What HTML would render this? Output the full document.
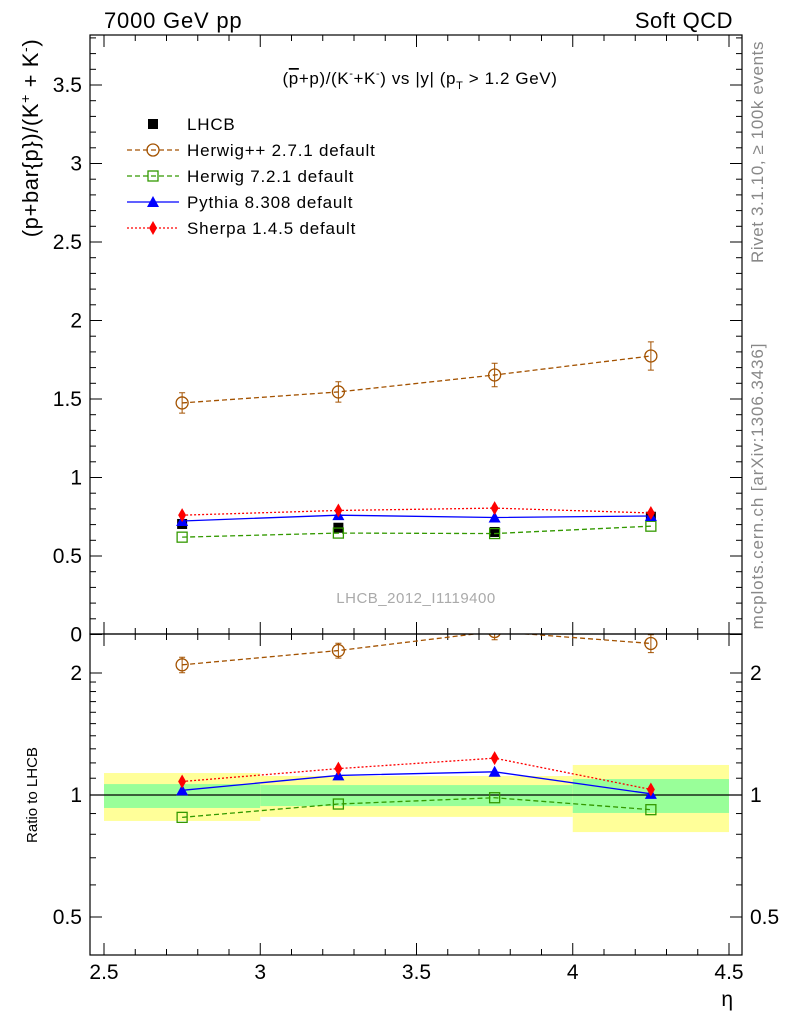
<!DOCTYPE html>
<html><head><meta charset="utf-8"><style>
body{margin:0;background:#fff}
svg{font-family:"Liberation Sans",Arial,sans-serif}
</style></head><body>
<svg id="c" width="786" height="1024" xmlns="http://www.w3.org/2000/svg">
<defs>
<clipPath id="cm"><rect x="90" y="35" width="652" height="599"/></clipPath>
<clipPath id="cr"><rect x="90" y="634" width="652" height="321"/></clipPath>
</defs>
<g id="bands" clip-path="url(#cr)"></g>
<g id="grid"></g>
<g id="series"></g>
<rect x="90" y="35" width="652" height="599" fill="none" stroke="#000" stroke-width="1.2"/>
<rect x="90" y="634" width="652" height="321" fill="none" stroke="#000" stroke-width="1.2"/>
<text x="104" y="28" font-size="22" letter-spacing="0.8">7000 GeV pp</text>
<text x="733" y="28" font-size="22" letter-spacing="0.5" text-anchor="end">Soft QCD</text>
<text x="420" y="84" font-size="17" letter-spacing="0.6" text-anchor="middle">(<tspan text-decoration="overline">p</tspan>+p)/(K<tspan dy="-7" font-size="11">-</tspan><tspan dy="7">+K</tspan><tspan dy="-7" font-size="11">-</tspan><tspan dy="7">) vs |y| (p</tspan><tspan dy="5" font-size="11">T</tspan><tspan dy="-5"> &gt; 1.2 GeV)</tspan></text>
<text transform="translate(38,138) rotate(-90)" font-size="22" letter-spacing="0.6" text-anchor="middle">(p+bar{p})/(K<tspan dy="-8" font-size="14">+</tspan><tspan dy="8"> + K</tspan><tspan dy="-8" font-size="14">-</tspan><tspan dy="8">)</tspan></text>
<text transform="translate(37,795) rotate(-90)" font-size="15" text-anchor="middle">Ratio to LHCB</text>
<text transform="translate(763,152) rotate(-90)" font-size="17" letter-spacing="0.6" fill="#888" text-anchor="middle">Rivet 3.1.10, ≥ 100k events</text>
<text transform="translate(763,486) rotate(-90)" font-size="17" letter-spacing="0.9" fill="#888" text-anchor="middle">mcplots.cern.ch [arXiv:1306.3436]</text>
<text x="416" y="603" font-size="15" letter-spacing="0.5" fill="#aaa" text-anchor="middle">LHCB_2012_I1119400</text>
<text x="733" y="1006" font-size="21" text-anchor="end">η</text>
<g id="legend"></g>
</svg>
<script>
const etaBins = [2.75, 3.25, 3.75, 4.25];
const dataVals = [0.704, 0.68, 0.653, 0.75];
const herwigppVals = [1.475, 1.545, 1.653, 1.774];
const herwigppErr = [0.065, 0.065, 0.075, 0.09];
const herwig7Vals = [0.62, 0.646, 0.643, 0.69];
const pythiaVals = [0.723, 0.76, 0.745, 0.755];
const sherpaVals = [0.76, 0.79, 0.805, 0.774];
const binEdges = [2.5, 3, 3.5, 4, 4.5];
const bandTotalHi = [1.133, 1.114, 1.114, 1.186];
const bandTotalLo = [0.863, 0.883, 0.883, 0.81];
const bandStatHi = [1.064, 1.058, 1.058, 1.095];
const bandStatLo = [0.929, 0.939, 0.939, 0.903];
const xTicks = [2.5, 3, 3.5, 4, 4.5];
const yTicks = [0, 0.5, 1, 1.5, 2, 2.5, 3, 3.5];
const rTicks = [0.5, 1, 2];

const NS = "http://www.w3.org/2000/svg";
const X = v => 104 + (v - 2.5) * 312.5;
const Y = v => 634.5 - v * 157;
const R = v => 795 - Math.log2(v) * 122;
function mk(tag, at, parent) {
  const e = document.createElementNS(NS, tag);
  for (const k in at) e.setAttribute(k, at[k]);
  parent.appendChild(e);
  return e;
}
const grid = document.getElementById('grid');
const bands = document.getElementById('bands');
const series = document.getElementById('series');
const legend = document.getElementById('legend');

for (let i = 0; i < 4; i++) {
  let r = mk('rect', {x: X(binEdges[i]), y: R(bandTotalHi[i]), width: X(binEdges[i+1]) - X(binEdges[i]), height: R(bandTotalLo[i]) - R(bandTotalHi[i]), fill: '#ffff99'}, bands);
  
  
  let g = mk('rect', {x: X(binEdges[i]), y: R(bandStatHi[i]), width: X(binEdges[i+1]) - X(binEdges[i]), height: R(bandStatLo[i]) - R(bandStatHi[i]), fill: '#99ff99'}, bands);
  
  
}
let one = mk('line', {x1: 90, x2: 742, y1: R(1), y2: R(1), stroke: '#000', 'stroke-width': 1.2}, bands);



for (let v = 2.5; v <= 4.501; v += 0.1) {
  const major = Math.abs(v * 2 - Math.round(v * 2)) < 1e-6;
  const L = major ? 12 : 6;
  const x = X(v);
  mk('line', {x1: x, x2: x, y1: 955, y2: 955 - L, stroke: '#000'}, grid);
  mk('line', {x1: x, x2: x, y1: 634, y2: 634 - L, stroke: '#000'}, grid);
  mk('line', {x1: x, x2: x, y1: 634, y2: 634 + L, stroke: '#000'}, grid);
  mk('line', {x1: x, x2: x, y1: 35, y2: 35 + L, stroke: '#000'}, grid);
}
xTicks.forEach(v => {
  const t = mk('text', {x: X(v), y: 979, 'font-size': 21, 'text-anchor': 'middle'}, grid);
  t.textContent = v;
  
  
});
for (let v = 0; v <= 3.801; v += 0.1) {
  const major = Math.abs(v * 2 - Math.round(v * 2)) < 1e-6;
  const L = major ? 12 : 6;
  const y = Y(v);
  if (y < 35) continue;
  mk('line', {x1: 90, x2: 90 + L, y1: y, y2: y, stroke: '#000'}, grid);
  mk('line', {x1: 742, x2: 742 - L, y1: y, y2: y, stroke: '#000'}, grid);
}
yTicks.forEach(v => {
  const t = mk('text', {x: 82, y: Y(v) + 7, 'font-size': 21, 'text-anchor': 'end'}, grid);
  t.textContent = v;
  
  
});
[0.5,0.6,0.7,0.8,0.9,1,1.1,1.2,1.3,1.4,1.5,1.6,1.7,1.8,1.9,2].forEach(v => {
  const major = rTicks.includes(v);
  const L = major ? 12 : 6;
  const y = R(v);
  mk('line', {x1: 90, x2: 90 + L, y1: y, y2: y, stroke: '#000'}, grid);
  mk('line', {x1: 742, x2: 742 - L, y1: y, y2: y, stroke: '#000'}, grid);
});
rTicks.forEach(v => {
  let t = mk('text', {x: 82, y: R(v) + 7, 'font-size': 21, 'text-anchor': 'end'}, grid);
  t.textContent = v;
  
  
  t = mk('text', {x: 750, y: R(v) + 7, 'font-size': 21}, grid);
  t.textContent = v;
  
  
});

function marker(kind, x, y, col, parent) {
  if (kind === 'sq') return mk('rect', {x: x - 5, y: y - 5, width: 10, height: 10, fill: '#000'}, parent);
  if (kind === 'osq') return mk('rect', {x: x - 5, y: y - 5, width: 10, height: 10, fill: 'none', stroke: col, 'stroke-width': 1.3}, parent);
  if (kind === 'oc') return mk('circle', {cx: x, cy: y, r: 6, fill: 'none', stroke: col, 'stroke-width': 1.3}, parent);
  if (kind === 'tri') return mk('path', {d: `M${x},${y-6}L${x+6},${y+5}L${x-6},${y+5}Z`, fill: col}, parent);
  if (kind === 'dia') return mk('path', {d: `M${x},${y-7}L${x+4},${y}L${x},${y+7}L${x-4},${y}Z`, fill: col}, parent);
}
const models = [
  {name: 'herwigpp', vals: herwigppVals, err: herwigppErr, col: '#a35200', dash: '5,3', m: 'oc', label: 'Herwig++ 2.7.1 default'},
  {name: 'herwig7', vals: herwig7Vals, err: null, col: '#339900', dash: '5,3', m: 'osq', label: 'Herwig 7.2.1 default'},
  {name: 'pythia', vals: pythiaVals, err: null, col: '#0000ff', dash: null, m: 'tri', label: 'Pythia 8.308 default'},
  {name: 'sherpa', vals: sherpaVals, err: null, col: '#ff0000', dash: '2,2', m: 'dia', label: 'Sherpa 1.4.5 default'}
];
const gm = mk('g', {'clip-path': 'url(#cm)'}, series);
const gr = mk('g', {'clip-path': 'url(#cr)'}, series);
etaBins.forEach((e, i) => {
  const p = marker('sq', X(e), Y(dataVals[i]), '#000', gm);
  
  
});
models.forEach(md => {
  const att = {fill: 'none', stroke: md.col, 'stroke-width': 1.3};
  if (md.dash) att['stroke-dasharray'] = md.dash;
  const l = mk('polyline', Object.assign({points: etaBins.map((e, i) => X(e) + ',' + Y(md.vals[i])).join(' ')}, att), gm);
  
  
  const rl = mk('polyline', Object.assign({points: etaBins.map((e, i) => X(e) + ',' + R(md.vals[i] / dataVals[i])).join(' ')}, att), gr);
  
  
  etaBins.forEach((e, i) => {
    if (md.err) {
      const y1 = Y(md.vals[i] + md.err[i]), y2 = Y(md.vals[i] - md.err[i]);
      mk('path', {d: `M${X(e)},${y1}V${y2}M${X(e)-3},${y1}H${X(e)+3}M${X(e)-3},${y2}H${X(e)+3}`, stroke: md.col, fill: 'none'}, gm);
      const r1 = R((md.vals[i] + md.err[i]) / dataVals[i]), r2 = R((md.vals[i] - md.err[i]) / dataVals[i]);
      mk('path', {d: `M${X(e)},${r1}V${r2}M${X(e)-3},${r1}H${X(e)+3}M${X(e)-3},${r2}H${X(e)+3}`, stroke: md.col, fill: 'none'}, gr);
    }
    const p = marker(md.m, X(e), Y(md.vals[i]), md.col, gm);
    
    
    const q = marker(md.m, X(e), R(md.vals[i] / dataVals[i]), md.col, gr);
    
    
  });
});
const legY = [124, 150, 176, 202, 228];
let s = marker('sq', 153, legY[0], '#000', legend);


let t = mk('text', {x: 187, y: legY[0] + 6, 'font-size': 17, 'letter-spacing': 0.8}, legend);
t.textContent = 'LHCB';


models.forEach((md, k) => {
  const y = legY[k + 1];
  const att = {x1: 127, x2: 179, y1: y, y2: y, stroke: md.col, 'stroke-width': 1.3};
  if (md.dash) att['stroke-dasharray'] = md.dash;
  mk('line', att, legend);
  const mm = marker(md.m, 153, y, md.col, legend);
  
  
  const tt = mk('text', {x: 187, y: y + 6, 'font-size': 17, 'letter-spacing': 0.8}, legend);
  tt.textContent = md.label;
  
  
});
</script>
</body></html>
